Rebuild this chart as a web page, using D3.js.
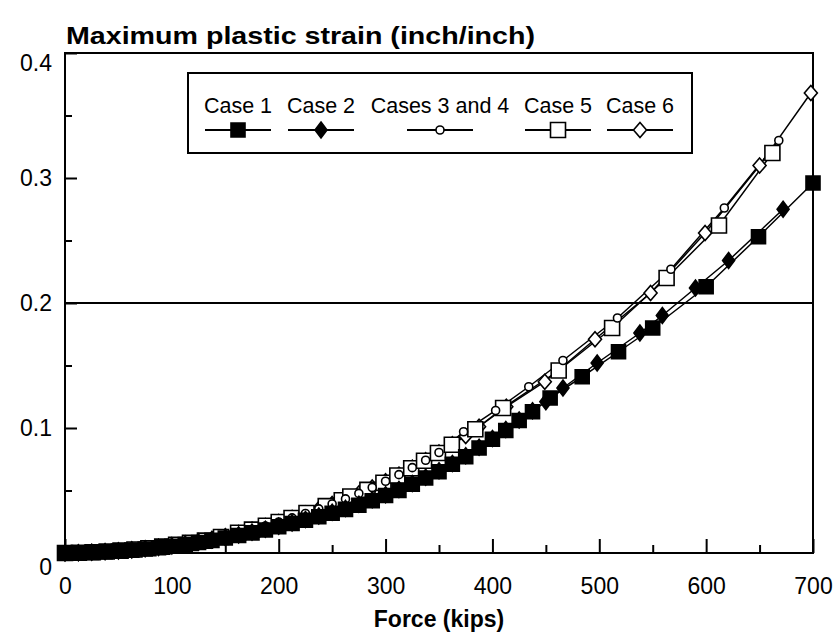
<!DOCTYPE html>
<html>
<head>
<meta charset="utf-8">
<script src="https://cdn.jsdelivr.net/npm/d3@7/dist/d3.min.js"></script>
<style>
  html, body { margin: 0; padding: 0; background: #fff; }
  svg { display: block; font-family: "Liberation Sans", Arial, Helvetica, sans-serif; }
</style>
</head>
<body>
<svg id="chart" width="840" height="640"></svg>
<script>
// ---------- data ----------
const chartTitle = "Maximum plastic strain (inch/inch)";
const xTitle = "Force (kips)";
const xMajorTicks = [0, 100, 200, 300, 400, 500, 600, 700];
const xMinorTicks = [50, 150, 250, 350, 450, 550, 650];
const yMajorTicks = [0, 0.1, 0.2, 0.3, 0.4];
const yMinorTicks = [0.05, 0.15, 0.25, 0.35];
const yTickLabels = ["0", "0.1", "0.2", "0.3", "0.4"];
const xTickLabels = ["0", "100", "200", "300", "400", "500", "600", "700"];
const referenceStrain = 0.2;

const seriesNames = ["Case 1", "Case 2", "Cases 3 and 4", "Case 5", "Case 6"];

// Case 1 (filled squares)
const force1 = [0,12.5,25,37.5,50,62.5,75,87.5,100,112.5,125,137.5,150,162.5,175,187.5,200,212.5,225,237.5,250,262.5,275,287.5,300,312.5,325,337.5,350,362.5,375,387.5,400,412.5,425,437.5,454,484,518,550,600,649,700];
const strain1 = [0,0.0002,0.0005,0.0010,0.0016,0.0023,0.0032,0.0042,0.0054,0.0068,0.0084,0.0101,0.0120,0.0140,0.0161,0.0184,0.0210,0.0236,0.0262,0.0290,0.0318,0.0349,0.0382,0.0418,0.0460,0.0500,0.0550,0.0600,0.0650,0.0710,0.0770,0.0840,0.0910,0.0980,0.1060,0.1130,0.1240,0.1410,0.1610,0.1800,0.2130,0.2530,0.2960];

// Case 2 (filled diamonds)
const force2 = [0,12.5,25,37.5,50,62.5,75,87.5,100,112.5,125,137.5,150,162.5,175,187.5,200,212.5,225,237.5,250,262.5,275,287.5,300,312.5,325,337.5,350,362.5,375,387.5,400,412.5,425,437.5,450,466,498,538,559,590,621,672];
const strain2 = [0,0.0002,0.0006,0.0011,0.0017,0.0025,0.0034,0.0045,0.0057,0.0071,0.0087,0.0105,0.0124,0.0145,0.0167,0.0190,0.0215,0.0241,0.0268,0.0296,0.0326,0.0357,0.0390,0.0426,0.0466,0.0508,0.0556,0.0606,0.0658,0.0716,0.0778,0.0846,0.0916,0.0988,0.1064,0.1138,0.1210,0.1320,0.1520,0.1760,0.1900,0.2120,0.2340,0.2750];

// Cases 3 and 4 (small open circles)
const force3 = [0,12.5,25,37.5,50,62.5,75,87.5,100,112.5,125,137.5,150,162.5,175,187.5,200,212.5,225,237.5,250,262.5,275,287.5,300,312.5,325,337.5,350,373,403,434,466,517,567,617,668];
const strain3 = [0,0.0002,0.0006,0.0011,0.0018,0.0026,0.0036,0.0048,0.0062,0.0077,0.0094,0.0113,0.0135,0.0160,0.0187,0.0216,0.0248,0.0281,0.0316,0.0353,0.0392,0.0433,0.0477,0.0524,0.0574,0.0627,0.0683,0.0742,0.0804,0.0970,0.1140,0.1330,0.1540,0.1880,0.2270,0.2760,0.3300];

// Case 5 (open squares)
const force5 = [0,13,26,39,52,65,78,91,104,117,131,146,162,175,188,200,212,226,244,259,267,283,298,311,324,336,349,362,384,410,462,512,563,612,662];
const strain5 = [0,0.0002,0.0006,0.0012,0.0019,0.0028,0.0038,0.0051,0.0066,0.0081,0.0099,0.0128,0.0162,0.0187,0.0218,0.0248,0.0280,0.0320,0.0375,0.0422,0.0452,0.0505,0.0562,0.0620,0.0678,0.0738,0.0800,0.0866,0.0990,0.1160,0.1460,0.1800,0.2200,0.2620,0.3200];

// Case 6 (open diamonds)
const force6 = [0,12.5,25,37.5,50,62.5,75,87.5,100,112.5,125,137.5,150,162.5,175,187.5,200,212.5,225,237.5,250,262.5,275,287.5,300,312.5,325,337.5,350,362.5,375,387.5,413,449,496,548,599,650,698];
const strain6 = [0,0.0002,0.0006,0.0011,0.0018,0.0026,0.0036,0.0048,0.0062,0.0077,0.0094,0.0113,0.0135,0.0160,0.0187,0.0216,0.0248,0.0281,0.0316,0.0353,0.0392,0.0433,0.0477,0.0524,0.0574,0.0627,0.0683,0.0742,0.0804,0.0870,0.0935,0.1010,0.1170,0.1370,0.1710,0.2080,0.2560,0.3100,0.3680];

// ---------- build ----------
const svg = d3.select("#chart");
const plot = { left: 65, right: 813, top: 53, bottom: 553 };

const x = d3.scaleLinear().domain([0, 700]).range([plot.left, plot.right]);
const y = d3.scaleLinear().domain([0, 0.4]).range([plot.bottom, plot.top]);

const zip = (f, s) => f.map((v, i) => ({ f: v, s: s[i] }));

// marker shapes (drawn around 0,0)
const markerDefs = {
  fsquare: { path: d3.symbol().type(d3.symbolSquare).size(14 * 14)(), fill: "#000" },
  fdiamond: { path: "M0,-8L6,0L0,8L-6,0Z", fill: "#000" },
  ocircle: { path: d3.symbol().type(d3.symbolCircle).size(Math.PI * 4 * 4)(), fill: "#fff" },
  osquare: { path: d3.symbol().type(d3.symbolSquare).size(15 * 15)(), fill: "#fff" },
  odiamond: { path: "M0,-7.5L6.5,0L0,7.5L-6.5,0Z", fill: "#fff" }
};

const series = [
  { name: seriesNames[4], data: zip(force6, strain6), marker: "odiamond" },
  { name: seriesNames[3], data: zip(force5, strain5), marker: "osquare" },
  { name: seriesNames[2], data: zip(force3, strain3), marker: "ocircle" },
  { name: seriesNames[1], data: zip(force2, strain2), marker: "fdiamond" },
  { name: seriesNames[0], data: zip(force1, strain1), marker: "fsquare" }
];

// reference line at 0.2
svg.append("line")
  .attr("x1", plot.left).attr("x2", plot.right)
  .attr("y1", y(referenceStrain)).attr("y2", y(referenceStrain))
  .attr("stroke", "#000").attr("stroke-width", 2);

// x axis: major ticks with labels, minor without
const xAxisMajor = d3.axisBottom(x).tickValues(xMajorTicks)
  .tickFormat((d, i) => xTickLabels[i]).tickSizeInner(-14).tickSizeOuter(0).tickPadding(25);
const gx = svg.append("g").attr("transform", `translate(0,${plot.bottom})`).call(xAxisMajor);
gx.select(".domain").remove();
gx.selectAll("line").attr("stroke", "#000").attr("stroke-width", 2);
gx.selectAll("text").attr("font-size", 23).attr("fill", "#000");

const gxm = svg.append("g").attr("transform", `translate(0,${plot.bottom})`)
  .call(d3.axisBottom(x).tickValues(xMinorTicks).tickFormat("").tickSizeInner(-8).tickSizeOuter(0));
gxm.select(".domain").remove();
gxm.selectAll("line").attr("stroke", "#000").attr("stroke-width", 2);

// y axis
const yAxisMajor = d3.axisLeft(y).tickValues(yMajorTicks)
  .tickFormat((d, i) => yTickLabels[i]).tickSizeInner(-12).tickSizeOuter(0).tickPadding(13);
const gy = svg.append("g").attr("transform", `translate(${plot.left},0)`).call(yAxisMajor);
gy.select(".domain").remove();
gy.selectAll("line").attr("stroke", "#000").attr("stroke-width", 2);
gy.selectAll("text").attr("font-size", 23).attr("fill", "#000");
// first and last labels sit inside the axis span, as in the reference
gy.selectAll(".tick text").attr("dy", d => d === 0 ? "0.95em" : d === 0.4 ? "0.78em" : "0.32em");

const gym = svg.append("g").attr("transform", `translate(${plot.left},0)`)
  .call(d3.axisLeft(y).tickValues(yMinorTicks).tickFormat("").tickSizeInner(-7).tickSizeOuter(0));
gym.select(".domain").remove();
gym.selectAll("line").attr("stroke", "#000").attr("stroke-width", 2);

// frame
svg.append("rect")
  .attr("x", plot.left).attr("y", plot.top)
  .attr("width", plot.right - plot.left).attr("height", plot.bottom - plot.top)
  .attr("fill", "none").attr("stroke", "#000").attr("stroke-width", 2);

// series lines
const line = d3.line().x(d => x(d.f)).y(d => y(d.s));
const gSeries = svg.append("g");
series.forEach(s => {
  gSeries.append("path").datum(s.data)
    .attr("d", line).attr("fill", "none")
    .attr("stroke", "#000").attr("stroke-width", 1.5);
});
// markers
series.forEach(s => {
  const m = markerDefs[s.marker];
  gSeries.append("g").selectAll("path").data(s.data).join("path")
    .attr("transform", d => `translate(${x(d.f)},${y(d.s)})`)
    .attr("d", m.path)
    .attr("fill", m.fill)
    .attr("stroke", "#000").attr("stroke-width", 1.6);
});

// titles
svg.append("text")
  .attr("x", 66).attr("y", 44)
  .attr("font-size", 24.5).attr("font-weight", "bold")
  .attr("textLength", 469).attr("lengthAdjust", "spacingAndGlyphs")
  .text(chartTitle);
svg.append("text")
  .attr("x", (plot.left + plot.right) / 2).attr("y", 627)
  .attr("text-anchor", "middle")
  .attr("font-size", 23).attr("font-weight", "bold")
  .text(xTitle);

// legend
const legend = svg.append("g");
legend.append("rect")
  .attr("x", 188).attr("y", 73).attr("width", 504).attr("height", 80)
  .attr("fill", "#fff").attr("stroke", "#000").attr("stroke-width", 2);
const legendItems = [
  { name: seriesNames[0], marker: "fsquare", cx: 238 },
  { name: seriesNames[1], marker: "fdiamond", cx: 321 },
  { name: seriesNames[2], marker: "ocircle", cx: 440 },
  { name: seriesNames[3], marker: "osquare", cx: 558 },
  { name: seriesNames[4], marker: "odiamond", cx: 640 }
];
legendItems.forEach(it => {
  const g = legend.append("g");
  g.append("text").attr("x", it.cx).attr("y", 113)
    .attr("text-anchor", "middle").attr("font-size", 21.5).text(it.name);
  g.append("line").attr("x1", it.cx - 33).attr("x2", it.cx + 33)
    .attr("y1", 130).attr("y2", 130).attr("stroke", "#000").attr("stroke-width", 2);
  const m = markerDefs[it.marker];
  g.append("path").attr("transform", `translate(${it.cx},130)`)
    .attr("d", m.path).attr("fill", m.fill).attr("stroke", "#000").attr("stroke-width", 1.6);
});
</script>
</body>
</html>
